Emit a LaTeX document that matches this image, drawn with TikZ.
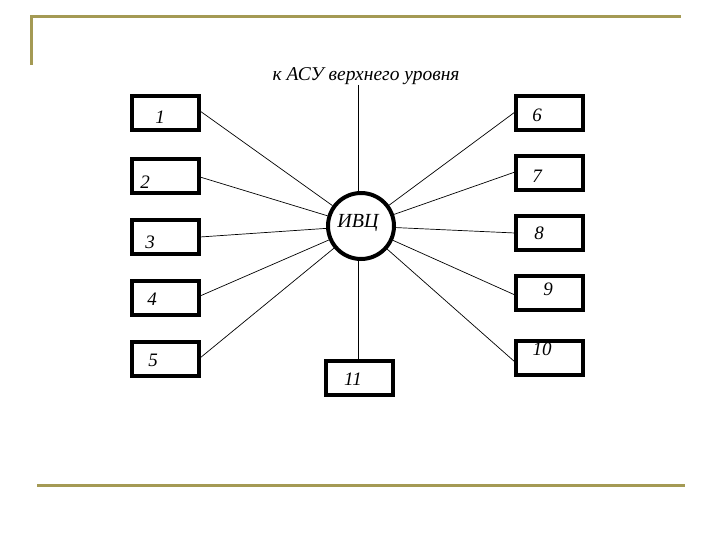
\documentclass[tikz,border=0pt]{standalone}
\usepackage{fontspec}
\setmainfont{Liberation Serif}
\definecolor{gold}{RGB}{164,154,84}
\begin{document}
\begin{tikzpicture}[x=1pt,y=-1pt,
  box/.style={draw,line width=4pt,minimum width=67pt,minimum height=34pt,inner sep=0pt},
  num/.style={font=\fontsize{19}{19}\selectfont\itshape,inner sep=0pt},
  link/.style={line width=0.7pt},
  deco/.style={draw=gold,line width=3pt}]
\useasboundingbox (0,0) rectangle (720,540);
% decoration
\draw[deco] (31,65) -- (31,17) -- (681,17);
\draw[deco] (37,485) -- (685,485);
% centre
\node[draw,circle,line width=4pt,minimum size=66pt,inner sep=0pt] (c) at (361,226) {};
\node[num,font=\fontsize{20}{20}\selectfont\itshape] (ct) at (358,223) {ИВЦ};
\node[font=\fontsize{19.5}{19.5}\selectfont\itshape,inner sep=0pt] (top) at (366,76) {к АСУ верхнего уровня};
\coordinate (tp) at (358,85);
% left boxes
\node[box] (b1) at (165,113) {};
\node[box] (b2) at (165,176) {};
\node[box] (b3) at (165,237) {};
\node[box] (b4) at (165,298) {};
\node[box] (b5) at (165,359) {};
% right boxes
\node[box] (b6) at (549,113) {};
\node[box] (b7) at (549,173) {};
\node[box] (b8) at (549,233) {};
\node[box] (b9) at (549,293) {};
\node[box] (b10) at (549,358) {};
\node[box] (b11) at (359,378) {};
% numbers
\node[num] (n1) at (160,117) {1};
\node[num] (n2) at (145,182) {2};
\node[num] (n3) at (150,242) {3};
\node[num] (n4) at (152,299) {4};
\node[num] (n5) at (153,360) {5};
\node[num] (n6) at (537,115) {6};
\node[num] (n7) at (537,176) {7};
\node[num] (n8) at (539,233) {8};
\node[num] (n9) at (548,289) {9};
\node[num] (n10) at (542,349) {10};
\node[num] (n11) at (353,379) {11};
% connectors
\coordinate (l1) at (200,111);
\coordinate (l2) at (200,177);
\coordinate (l3) at (200,237);
\coordinate (l4) at (200,296);
\coordinate (l5) at (200,358);
\coordinate (r6) at (515,112);
\coordinate (r7) at (515,172);
\coordinate (r8) at (515,233);
\coordinate (r9) at (515,295);
\coordinate (r10) at (515,362);
\foreach \p in {l1,l2,l3,l4,l5,r6,r7,r8,r9,r10}
  \draw[link] (\p) -- (c);
\draw[link] (tp) -- (tp |- c.north);
\draw[link] (b11.north -| tp) -- (tp |- c.south);
\end{tikzpicture}
\end{document}
